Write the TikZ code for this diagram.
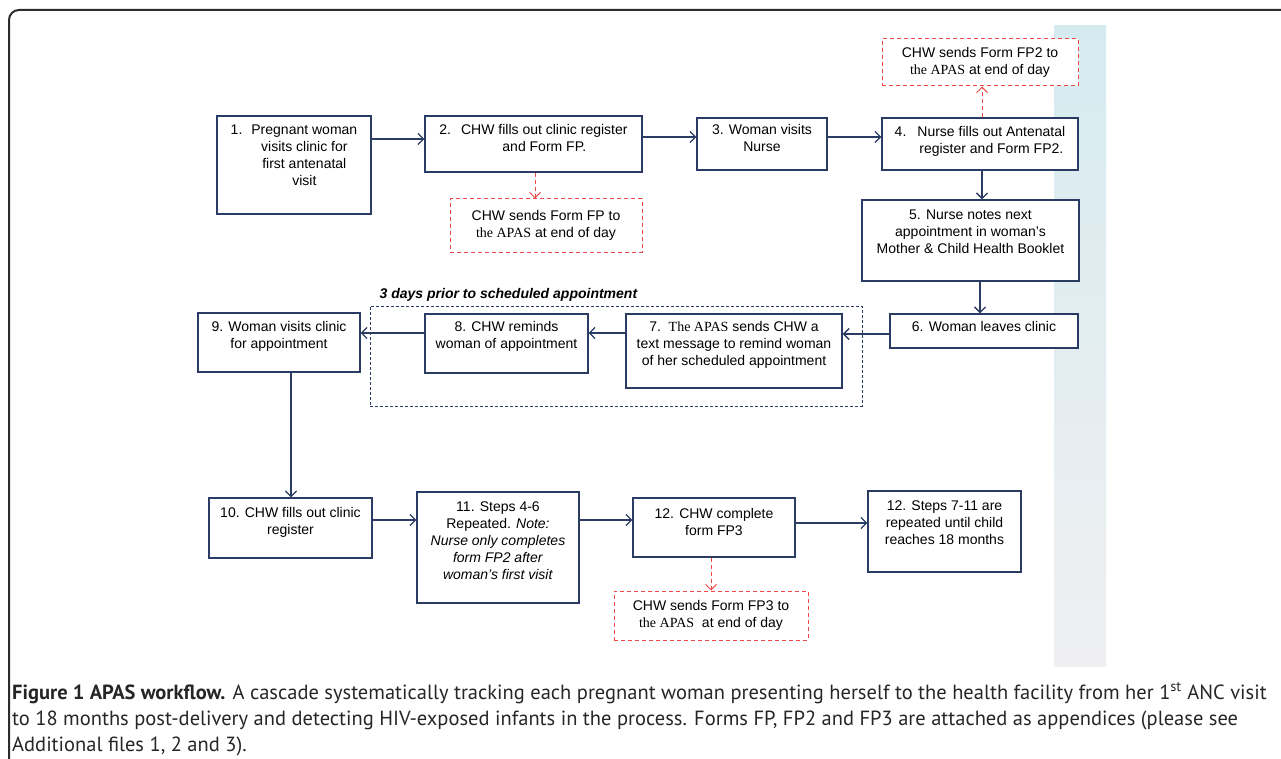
\documentclass[tikz,border=0pt]{standalone}
\usepackage{fontspec}
\setmainfont{Liberation Sans}
\newfontfamily\tnr{Liberation Serif}
\newfontfamily\capfont{PT Sans}
\usetikzlibrary{arrows.meta}
\definecolor{nnavy}{RGB}{42, 60, 100}
\definecolor{nred}{RGB}{236, 72, 72}
\definecolor{ncyan}{RGB}{214, 235, 240}
\definecolor{ngray}{RGB}{239, 239, 241}
\definecolor{nframe}{RGB}{45, 45, 45}
\tikzset{
    box/.style={draw=nnavy, fill=white, line width=1.3pt},
    sendbox/.style={draw=nred, fill=white, line width=1pt, dash pattern=on 4pt off 3pt, align=center, font=\fontsize{14}{17}\selectfont},
    grpbox/.style={draw=nnavy, line width=1pt, dash pattern=on 3pt off 2pt},
    txt/.style={anchor=north, align=center, inner sep=0pt, yshift=#1, font=\fontsize{14}{17}\selectfont},
    txt/.default=-9pt,
    flow/.style={draw=nnavy, line width=1.3pt, -{Straight Barb[length=5.5pt,width=11pt]}},
    sendflow/.style={draw=nred, line width=1pt, dash pattern=on 4pt off 3pt, -{Straight Barb[length=5.5pt,width=11pt]}},
}

\begin{document}
\begin{tikzpicture}[x=1pt, y=-1pt]
    \useasboundingbox (0,0) rectangle (1281,759);
    \shade[top color=ncyan, bottom color=ngray] (1054,26) rectangle (1106,666);
    \draw[nframe, line width=2pt, rounded corners=10pt] (9,759) -- (9,10) -- (1281,10);

    \node[box, minimum width=154pt, minimum height=98pt, label={[txt=-7pt]north:\begin{tabular}{@{}l@{\hspace{9pt}}c@{}}1.&Pregnant woman\\&visits clinic for\\&first antenatal\\&visit\end{tabular}}] (b1) at (294,165) {};
    \node[box, minimum width=217pt, minimum height=56pt, label={[txt=-7pt]north:\begin{tabular}{@{}l@{\hspace{10pt}}c@{}}2.&CHW fills out clinic register\\&and Form FP.\end{tabular}}] (b2) at (533.5,144) {};
    \node[box, minimum width=130pt, minimum height=52pt, label={[txt=-7pt]north:3. Woman visits\\Nurse}] (b3) at (762,144) {};
    \node[box, minimum width=196pt, minimum height=52pt, label={[txt=-7pt]north:\begin{tabular}{@{}l@{\hspace{11pt}}c@{}}4.&Nurse fills out Antenatal\\&register and Form FP2.\end{tabular}}] (b4) at (980,144) {};
    \node[box, minimum width=217pt, minimum height=81pt, label={[txt=-10pt]north:5. Nurse notes next\\appointment in woman's\\Mother \& Child Health Booklet}] (b5) at (970.5,240.5) {};
    \node[box, minimum width=188pt, minimum height=34pt, label={[txt=-8pt]north:6. Woman leaves clinic}] (b6) at (984,331) {};

    \node[grpbox, minimum width=492pt, minimum height=100pt, label={[anchor=south west, inner sep=0pt, xshift=10pt, yshift=4pt, font=\fontsize{14}{17}\selectfont\bfseries\itshape]north west:3 days prior to scheduled appointment}] (grp) at (616,356) {};
    \node[box, minimum width=216pt, minimum height=74pt, label={[txt=-8pt]north:7.\ \ {\tnr The APAS} sends CHW a\\text message to remind woman\\of her scheduled appointment}] (b7) at (734,351) {};
    \node[box, minimum width=163pt, minimum height=59pt, label={[txt=-8pt]north:8. CHW reminds\\woman of appointment}] (b8) at (506.5,343.5) {};
    \node[box, minimum width=162pt, minimum height=59pt, label={[txt=-9pt]north:9. Woman visits clinic\\for appointment}] (b9) at (279,342.5) {};

    \node[box, minimum width=163pt, minimum height=60pt, label={[txt=-10pt]north:10. CHW fills out clinic\\register}] (b10) at (290.5,528) {};
    \node[box, minimum width=162pt, minimum height=111pt, label={[txt=-10pt]north:11. Steps 4-6\\Repeated. \textit{Note:}\\\textit{Nurse only completes}\\\textit{form FP2 after}\\\textit{woman's first visit}}] (b11) at (498,547.5) {};
    \node[box, minimum width=162pt, minimum height=59pt, label={[txt=-11pt]north:12. CHW complete\\form FP3}] (b12) at (714,527.5) {};
    \node[box, minimum width=153pt, minimum height=81pt, label={[txt=-10pt]north:12. Steps 7-11 are\\repeated until child\\reaches 18 months}] (b13) at (944.5,531.5) {};

    \node[sendbox, minimum width=192pt, minimum height=53pt] (fp) at (546,225.5) {CHW sends Form FP to\\{\tnr the APAS} at end of day};
    \node[sendbox, minimum width=196pt, minimum height=47pt] (fp2) at (980,62.5) {CHW sends Form FP2 to\\{\tnr the APAS} at end of day};
    \node[sendbox, minimum width=194pt, minimum height=49pt] (fp3) at (711,615.5) {CHW sends Form FP3 to\\{\tnr the APAS}\ \ at end of day};

    \draw[flow] ([yshift=26pt]b1.east) -- ([yshift=5pt]b2.west);
    \draw[flow] ([yshift=7pt]b2.east) -- ([yshift=7pt]b3.west);
    \draw[flow] ([yshift=7pt]b3.east) -- ([yshift=7pt]b4.west);
    \draw[flow] ([xshift=2pt]b4.south) -- ([xshift=11.5pt]b5.north);
    \draw[flow] ([xshift=9.5pt]b5.south) -- ([xshift=-4pt]b6.north);
    \draw[flow] ([yshift=-3pt]b6.west) -- ([yshift=17pt]b7.east);
    \draw[flow] ([yshift=18pt]b7.west) -- ([yshift=10.5pt]b8.east);
    \draw[flow] ([yshift=10.5pt]b8.west) -- ([yshift=9.5pt]b9.east);
    \draw[flow] ([xshift=12pt]b9.south) -- ([xshift=0.5pt]b10.north);
    \draw[flow] ([yshift=8pt]b10.east) -- ([yshift=27.5pt]b11.west);
    \draw[flow] ([yshift=27.5pt]b11.east) -- ([yshift=7.5pt]b12.west);
    \draw[flow] ([yshift=4.5pt]b12.east) -- ([yshift=8.5pt]b13.west);
    \draw[sendflow] ([xshift=1.5pt]b2.south) -- ([xshift=-11pt]fp.north);
    \draw[sendflow] ([xshift=2pt]b4.north) -- ([xshift=2pt]fp2.south);
    \draw[sendflow] ([xshift=-3pt]b12.south) -- (fp3.north);

    \node[anchor=base west, align=left, inner sep=0pt, font=\capfont\fontsize{20.5}{26}\selectfont, text=black!85] (cap) at (12,751) {\textbf{Figure 1 APAS workflow.} A cascade systematically tracking each pregnant woman presenting herself to the health facility from her 1\textsuperscript{st} ANC visit\\to 18 months post-delivery and detecting HIV-exposed infants in the process. Forms FP, FP2 and FP3 are attached as appendices (please see\\Additional files 1, 2 and 3).};
\end{tikzpicture}
\end{document}
